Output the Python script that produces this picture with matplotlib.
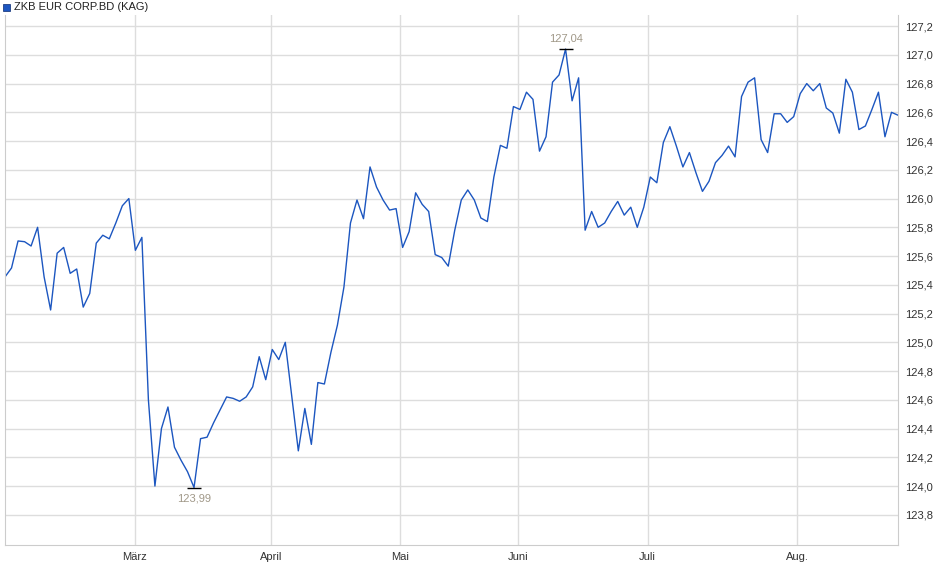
import matplotlib
matplotlib.use('Agg')
import matplotlib.pyplot as plt
import numpy as np

title = 'ZKB EUR CORP.BD (KAG)'
prices = [125.455, 125.517, 125.705, 125.70, 125.67, 125.80, 125.455, 125.225, 125.62, 125.66,
          125.48, 125.51, 125.245, 125.34, 125.69, 125.745, 125.72, 125.83, 125.95, 126.00,
          125.64, 125.73, 124.6, 124.0, 124.4, 124.55, 124.27, 124.18, 124.1, 123.99,
          124.33, 124.34, 124.44, 124.53, 124.62, 124.61, 124.59, 124.62, 124.69, 124.9,
          124.74, 124.95, 124.88, 125.0, 124.62, 124.245, 124.54, 124.29, 124.72, 124.71,
          124.93, 125.12, 125.385, 125.83, 125.99, 125.86, 126.22, 126.08, 125.99, 125.92,
          125.93, 125.66, 125.77, 126.04, 125.96, 125.91, 125.61, 125.59, 125.53, 125.78,
          125.99, 126.06, 125.99, 125.865, 125.84, 126.15, 126.37, 126.35, 126.64, 126.62,
          126.74, 126.69, 126.33, 126.43, 126.81, 126.86, 127.04, 126.68, 126.84, 125.78,
          125.91, 125.80, 125.83, 125.91, 125.98, 125.885, 125.94, 125.80, 125.94, 126.15,
          126.11, 126.39, 126.5, 126.365, 126.22, 126.32, 126.18, 126.05, 126.12, 126.25,
          126.30, 126.365, 126.29, 126.71, 126.81, 126.84, 126.41, 126.32, 126.59, 126.59,
          126.53, 126.57, 126.73, 126.80, 126.75, 126.80, 126.63, 126.595, 126.455, 126.83,
          126.74, 126.48, 126.505, 126.62, 126.74, 126.43, 126.60, 126.58]
# trading-day index where each month starts
month_ticks = [19.9, 40.8, 60.6, 78.7, 98.6, 121.5]
month_labels = ['März', 'April', 'Mai', 'Juni', 'Juli', 'Aug.']
y_ticks = [123.8, 124.0, 124.2, 124.4, 124.6, 124.8, 125.0, 125.2, 125.4, 125.6,
           125.8, 126.0, 126.2, 126.4, 126.6, 126.8, 127.0, 127.2]

days = np.arange(len(prices))
prices = np.array(prices)

plt.rcParams['font.family'] = ['Liberation Sans', 'DejaVu Sans']
fig = plt.figure(figsize=(9.4, 5.79), dpi=100)
ax = fig.add_axes([5 / 940, 34 / 579, 893 / 940, 530 / 579])

ax.plot(days, prices, color='#1c56c0', lw=1)

ax.set_xlim(0, 137.0)
ax.set_ylim(123.59, 127.277)
ax.set_xticks(month_ticks)
ax.set_xticklabels(month_labels)
ax.set_yticks(y_ticks)
ax.set_yticklabels([('%.1f' % v).replace('.', ',') for v in y_ticks])
ax.yaxis.tick_right()
ax.tick_params(axis='both', labelsize=8, colors='#333333', length=0, pad=5)
ax.grid(True, color='#dddddd', lw=1)
for s in ax.spines.values():
    s.set_color('#cccccc')
ax.spines['top'].set_visible(False)

# min / max markers
imax = int(np.argmax(prices))
imin = int(np.argmin(prices))
for i, off, va in [(imax, 4, 'bottom'), (imin, -4, 'top')]:
    ax.plot(days[i], prices[i], marker='_', color='black', ms=10, mew=1)
    ax.annotate(('%.2f' % prices[i]).replace('.', ','), (days[i], prices[i]),
                xytext=(0, off), textcoords='offset points', ha='center', va=va,
                fontsize=8, color='#a09888')

# legend
fig.patches.append(plt.Rectangle((3 / 940, 1 - 11 / 579), 7 / 940, 7 / 579,
                                 transform=fig.transFigure, facecolor='#1c56c0',
                                 edgecolor='#0a2a70', lw=0.5))
fig.text(14 / 940, 1 - 7.5 / 579, title, fontsize=8, va='center', color='#222222')

fig.savefig('out.png', dpi=100)
